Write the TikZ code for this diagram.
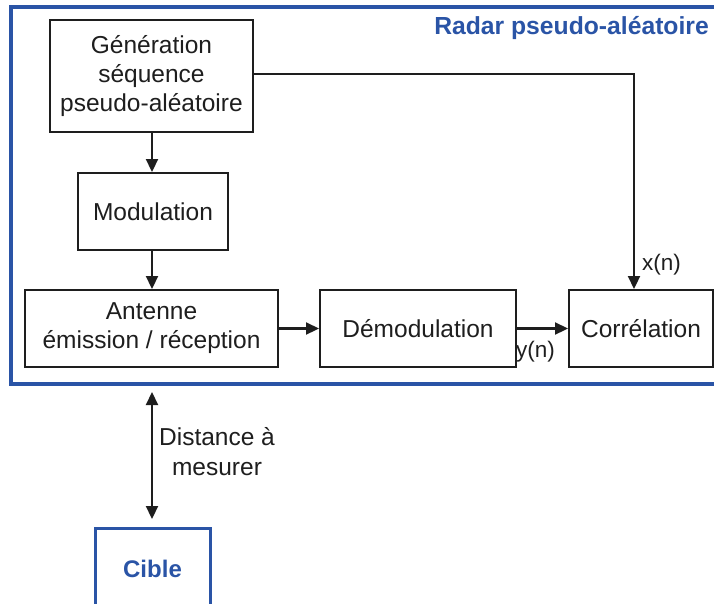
\documentclass[tikz,border=0pt]{standalone}
\usepackage{fontspec}
\setmainfont{Liberation Sans}
\usetikzlibrary{arrows.meta}
\definecolor{frameblue}{RGB}{42,84,166}
\definecolor{ink}{RGB}{30,30,30}
\tikzset{
  blk/.style={draw=ink, line width=2pt, rectangle, inner sep=0pt, align=center,
    text=ink, font=\fontsize{24.5}{29}\selectfont},
  arr/.style={draw=ink, line width=2.2pt, -{Triangle[length=13pt,width=12pt]}},
  darr/.style={draw=ink, line width=2.2pt, {Triangle[length=13pt,width=12pt]}-{Triangle[length=13pt,width=12pt]}},
  lbl/.style={text=ink, inner sep=0pt, font=\fontsize{22.5}{26}\selectfont},
  txt/.style={text=ink, inner sep=0pt, align=center, font=\fontsize{24.5}{30}\selectfont}
}
\begin{document}
\begin{tikzpicture}[x=1pt,y=-1pt]
\useasboundingbox (0,0) rectangle (714,603);
% outer frame
\draw[frameblue, line width=3.5pt] (740,7) -- (11,7) -- (11,384) -- (740,384);
\node[anchor=east, inner sep=0pt, text=frameblue, font=\fontsize{24.7}{29}\selectfont\bfseries] (title) at (709,28) {Radar pseudo-aléatoire};
% blocks
\node[blk, minimum width=203pt, minimum height=112pt] (gen) at (151.5,76) {Génération\\séquence\\pseudo-aléatoire};
\node[blk, minimum width=150pt, minimum height=77pt] (mod) at (153,211.5) {Modulation};
\node[blk, minimum width=253pt, minimum height=77pt] (ant) at (151.5,328.5) {Antenne\\émission / réception};
\node[blk, minimum width=196pt, minimum height=77pt] (dem) at (418,328.5) {Démodulation};
\node[blk, minimum width=144pt, minimum height=77pt] (cor) at (641,328.5) {Corrélation};
% connectors
\draw[arr] (gen.south -| 152,0) -- (mod.north -| 152,0);
\draw[arr] (mod.south -| 152,0) -- (ant.north -| 152,0);
\draw[arr] (ant.east) -- (dem.west);
\draw[arr] (dem.east) -- (cor.west);
\coordinate (xin) at (634,0);
\draw[arr] (gen.east |- 0,74) -| (xin |- cor.north);
\node[lbl, anchor=west] (xn) at (642,265) {x(n)};
\node[lbl, anchor=west] (yn) at (516,352) {y(n)};
% distance
\coordinate (dtop) at (152,392);
\coordinate (dbot) at (152,519);
\draw[darr] (dtop) -- (dbot);
\node[txt] (dist) at (217,452) {Distance à\\mesurer};
% target
\node[draw=frameblue, line width=3pt, minimum width=115pt, minimum height=82pt, inner sep=0pt,
  text=frameblue, font=\fontsize{24}{28}\selectfont\bfseries] (cible) at (152.5,569) {Cible};
\end{tikzpicture}
\end{document}
